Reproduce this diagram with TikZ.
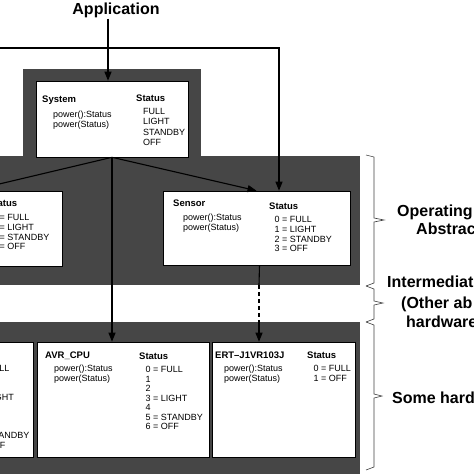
\documentclass[tikz,border=0pt]{standalone}
\usepackage{fontspec}
\setmainfont{Liberation Sans}
\usetikzlibrary{arrows.meta,calc}
\definecolor{darkfill}{RGB}{70,70,70}
\newcommand\capstrut{\rule{0pt}{6.6pt}}
\begin{document}
\begin{tikzpicture}[x=1pt,y=-1pt,
 arr/.style={-{Triangle[length=9pt,width=7pt]}, line width=1.1pt},
 conn/.style={line width=1.1pt},
 panel/.style={fill=darkfill, draw=none},
 box/.style={draw=black, line width=0.6pt, fill=white, rectangle, inner sep=0pt},
 ttl/.style={font=\bfseries\fontsize{9.5}{10}\selectfont, anchor=base west, inner sep=0pt},
 txt/.style={font=\fontsize{9}{9.7}\selectfont, anchor=north west, inner sep=0pt, align=left},
 lbl/.style={font=\bfseries\fontsize{16}{18}\selectfont, anchor=base west, inner sep=0pt},
 brace/.style={line width=0.6pt, draw=black!75}]
\useasboundingbox (0,0) rectangle (474,474);
\clip (0,0) rectangle (474,474);
% dark panels
\fill[panel] (23,69) rectangle (201,157);
\fill[panel] (-20,156) rectangle (360,285);
\fill[panel] (-20,322) rectangle (360,490);
% boxes
\node[box, minimum width=152pt, minimum height=76pt] (sys) at (112,119) {};
\node[box, minimum width=187pt, minimum height=74pt] (sensor) at (256.5,228) {};
\node[box, minimum width=182pt, minimum height=75pt] (lbox) at (-29,228.5) {};
\node[box, minimum width=172pt, minimum height=115pt] (avr) at (123,399.5) {};
\node[box, minimum width=143pt, minimum height=115pt] (ert) at (283.5,399.5) {};
\node[box, minimum width=173pt, minimum height=115pt] (blbox) at (-53.5,399.5) {};
% application
\node[font=\bfseries\fontsize{16}{18}\selectfont, anchor=base, inner sep=1pt] (app) at (116,14) {Application};
\draw[arr] ([xshift=-8pt]app.south) -- ([xshift=-8pt]app.south |- sys.north);
% top line from the left
\coordinate (tl) at (-10,48);
\coordinate (tc) at (279,48);
\draw[arr] (tl) -- (tc) -- (tc |- sensor.north);
% system to lower boxes
\draw[arr] (sys.south) -- (sensor.north);
\draw[arr] (sys.south) -- (lbox.north);
\draw[arr] (sys.south) -- (sys.south |- avr.north);
% sensor to ert
\coordinate (d0) at ([xshift=3pt]sensor.south);
\coordinate (d1) at (259,285);
\coordinate (d2) at (259,322);
\draw[conn] (d0) -- (d1);
\draw[conn, dash pattern=on 4pt off 3pt] (d1) -- (d2);
\draw[arr] (d2) -- (d2 |- ert.north);
% system texts
\node[ttl] (sysT) at (42,102) {System};
\node[txt] (sysM) at (53,110.8) {\capstrut power():Status\\power(Status)};
\node[ttl] (sysS) at (136,101.5) {Status};
\node[txt, font=\fontsize{9}{10.3}\selectfont] (sysL) at (143,107.8) {\capstrut FULL\\LIGHT\\STANDBY\\OFF};
% sensor texts
\node[ttl] (senT) at (173,206.4) {Sensor};
\node[txt] (senM) at (183,213.8) {\capstrut power():Status\\power(Status)};
\node[ttl] (senS) at (269,209.2) {Status};
\node[txt] (senL) at (274.5,215.8) {\capstrut 0 = FULL\\1 = LIGHT\\2 = STANDBY\\3 = OFF};
% left box texts
\node[ttl] (lS) at (-12,206.4) {Status};
\node[txt] (lL) at (-8,213.8) {\capstrut 0 = FULL\\1 = LIGHT\\2 = STANDBY\\3 = OFF};
% avr texts
\node[ttl] (avrT) at (45,358.4) {AVR\_CPU};
\node[txt] (avrM) at (54,364.8) {\capstrut power():Status\\power(Status)};
\node[ttl] (avrS) at (139,359.4) {Status};
\node[txt, font=\fontsize{9}{9.5}\selectfont] (avrL) at (145.5,365.8) {\capstrut 0 = FULL\\1\\2\\3 = LIGHT\\4\\5 = STANDBY\\6 = OFF};
% ert texts
\node[ttl] (ertT) at (215,358.4) {ERT–J1VR103J};
\node[txt] (ertM) at (224,364.8) {\capstrut power():Status\\power(Status)};
\node[ttl] (ertS) at (307,358.4) {Status};
\node[txt, font=\fontsize{9}{10}\selectfont] (ertL) at (313.5,364.8) {\capstrut 0 = FULL\\1 = OFF};
% bottom-left box texts
\node[txt, font=\fontsize{9}{9.6}\selectfont] (blL) at (-28,364.8) {\capstrut 0 = FULL\\1\\2\\3 = LIGHT\\4\\5\\6\\7 = STANDBY\\8 = OFF};
% braces
\draw[brace] (366,155) -- (374,157) -- (374,218) -- (384,220) -- (374,222) -- (374,283) -- (366,286);
\draw[brace] (366,286) -- (374,289) -- (374,301) -- (383,303) -- (374,305) -- (374,319) -- (366,322);
\draw[brace] (366,322) -- (374,325) -- (374,394) -- (382,396) -- (374,398) -- (374,467) -- (366,470);
% layer labels
\node[lbl] (op1) at (397,216) {Operating};
\node[lbl] (op2) at (416,234) {Abstrac};
\node[lbl] (in1) at (387,287) {Intermediat};
\node[lbl] (in2) at (401,308) {(Other ab};
\node[lbl] (in3) at (406,327) {hardware};
\node[lbl] (hw1) at (392,403) {Some hard};
\end{tikzpicture}
\end{document}
